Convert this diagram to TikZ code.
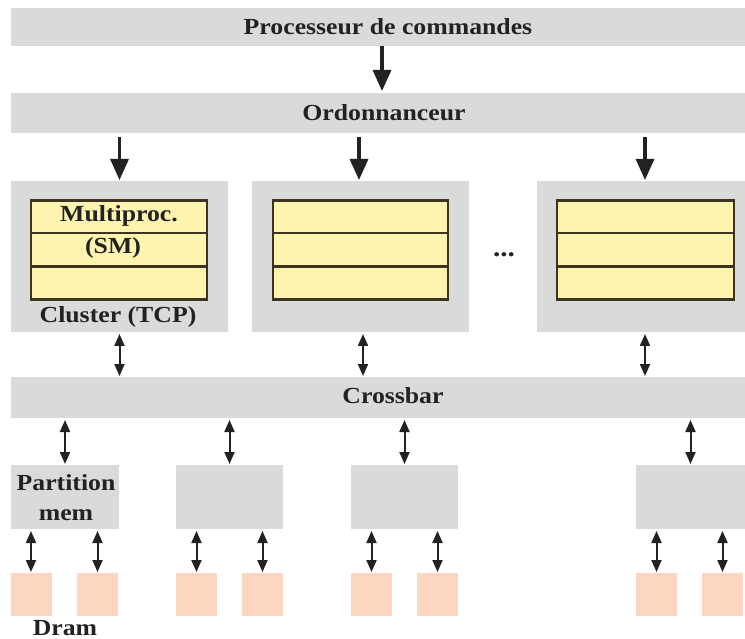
\documentclass[tikz,border=0pt]{standalone}
\usepackage{fontspec}
\setmainfont{Liberation Serif}[FakeStretch=1.12]
\usetikzlibrary{arrows.meta}
\definecolor{gbg}{HTML}{D9DADA}
\definecolor{yel}{HTML}{FEF3AF}
\definecolor{ybrd}{HTML}{3E3320}
\definecolor{dramc}{HTML}{FDD6BF}
\definecolor{txt}{HTML}{222222}
\begin{document}
\begin{tikzpicture}[x=1pt,y=-1pt,
  gbox/.style={fill=gbg, draw=none, inner sep=0pt, outer sep=0pt},
  ybox/.style={fill=yel, draw=ybrd, line width=2.2pt, inner sep=0pt, outer sep=0pt, minimum height=33pt},
  dbox/.style={fill=dramc, draw=none, inner sep=0pt, outer sep=0pt, minimum width=41pt, minimum height=43pt},
  lbl/.style={inner sep=0pt, text=txt, font=\bfseries\fontsize{23}{30}\selectfont, align=center},
  bigarrow/.style={draw=txt, line width=3.2pt, -{Triangle[width=18pt,length=21pt]}},
  barrow/.style={draw=txt, line width=2pt, {Triangle[width=10pt,length=12pt]}-{Triangle[width=10pt,length=12pt]}}
]
\useasboundingbox (0,0) rectangle (745,639);

% bars
\node[gbox, minimum width=734pt, minimum height=38pt] (proc) at (378,27) {};
\node[lbl] (proct) at (388,27) {Processeur de commandes};
\node[gbox, minimum width=734pt, minimum height=40pt] (ord) at (378,113) {};
\node[lbl] (ordt) at (384,113) {Ordonnanceur};
\node[gbox, minimum width=734pt, minimum height=41pt] (xbar) at (378,397.5) {};
\node[lbl] (xbart) at (393,396) {Crossbar};

% clusters
\node[gbox, minimum width=217pt, minimum height=151pt] (c1) at (119.5,256.5) {};
\node[gbox, minimum width=217pt, minimum height=151pt] (c2) at (360.5,256.5) {};
\node[gbox, minimum width=208pt, minimum height=151pt] (c3) at (641,256.5) {};

\foreach \n/\cx/\w in {1/119/176, 2/360.5/175, 3/645.5/177}{
  \node[ybox, minimum width=\w pt] (s\n a) at (\cx,217) {};
  \node[ybox, minimum width=\w pt] (s\n b) at (\cx,249.5) {};
  \node[ybox, minimum width=\w pt] (s\n c) at (\cx,283) {};
}
\node[lbl] (mp) at (119,216) {Multiproc.};
\node[lbl] (sm) at (113,248) {(SM)};
\node[lbl] (tcp) at (118,317) {Cluster (TCP)};
\node[lbl, font=\bfseries\fontsize{26}{30}\selectfont] (dots) at (504,255) {...};

% partitions
\node[gbox, minimum width=108pt, minimum height=64pt] (p1) at (65,497) {};
\node[gbox, minimum width=107pt, minimum height=64pt] (p2) at (229.5,497) {};
\node[gbox, minimum width=107pt, minimum height=64pt] (p3) at (404.5,497) {};
\node[gbox, minimum width=109pt, minimum height=64pt] (p4) at (690.5,497) {};
\node[lbl] (pt) at (66,498) {Partition\\mem};

% drams
\foreach \n/\cx in {1/31, 2/97.5, 3/196.5, 4/262.5, 5/371.5, 6/437.5, 7/656.5, 8/722.5}{
  \node[dbox] (d\n) at (\cx,594.5) {};
}
\node[lbl] (dramt) at (65,628) {Dram};

% arrow columns
\coordinate (a0) at (382,0);
\coordinate (a3) at (645,0);
\coordinate (b2) at (363,0);
\coordinate (o2) at (359,0);

\draw[bigarrow, shorten >=2pt] (proc.south -| a0) -- (ord.north -| a0);
\draw[bigarrow, shorten <=4pt, shorten >=1pt] (ord.south -| c1.south) -- (c1.north);
\draw[bigarrow, shorten <=4pt, shorten >=1pt] (ord.south -| o2) -- (c2.north -| o2);
\draw[bigarrow, shorten <=4pt, shorten >=1pt] (ord.south -| a3) -- (c3.north -| a3);

\draw[barrow, shorten <=2pt, shorten >=1pt] (c1.south) -- (xbar.north -| c1.south);
\draw[barrow, shorten <=2pt, shorten >=1pt] (c2.south -| b2) -- (xbar.north -| b2);
\draw[barrow, shorten <=2pt, shorten >=1pt] (c3.south -| a3) -- (xbar.north -| a3);

\foreach \n in {1,2,3,4}{
  \draw[barrow, shorten <=2pt, shorten >=1pt] (xbar.south -| p\n.north) -- (p\n.north);
}
\foreach \p/\da/\db in {1/1/2, 2/3/4, 3/5/6, 4/7/8}{
  \draw[barrow, shorten <=2pt, shorten >=1pt] (p\p.south -| d\da.north) -- (d\da.north);
  \draw[barrow, shorten <=2pt, shorten >=1pt] (p\p.south -| d\db.north) -- (d\db.north);
}
\end{tikzpicture}
\end{document}
